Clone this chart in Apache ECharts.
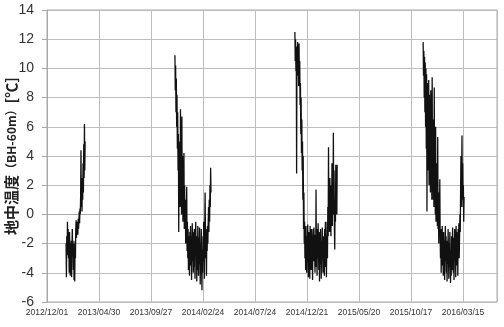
<!DOCTYPE html>
<html>
<head>
<meta charset="utf-8">
<script src="https://cdn.jsdelivr.net/npm/echarts@6/dist/echarts.min.js"></script>
<style>html,body{margin:0;padding:0;background:#fff;}#c{width:504px;height:327px;}</style>
</head>
<body>
<div id="c"></div>
<script>
// Axis settings
const axisStart = "2012/12/01";
const xTickDays = 150;
const xMaxDays = 1298;
const yMin = -6, yMax = 14, yStep = 2;
const yAxisTitle = ["地中温度", "（BH-60m）", "[℃]"];

// Measured series: each winter record, daily values from its start date
const seg1Start = "2013/01/25";
const seg1 = [
  -2.0, -4.3, -1.5, -2.8, -0.5, -2.5, -1.0, -3.0, -2.0, -4.0,
  -1.2, -2.5, -4.2, -2.0, -3.5, -1.8, -4.3, -2.2, -1.0, -2.6,
  -1.8, -3.8, -2.0, -4.5, -2.4, -4.6, -1.8, -3.0, -1.0, -0.4,
  -1.6, -0.6, -1.2, -0.5, -1.4, -0.3, -1.0, -0.5, 0.2, -0.6,
  0.4, 0.0, 1.2, 4.4, 0.5, 1.5, 0.2, 2.5, 1.0, 3.5,
  1.5, 4.8, 2.5, 6.2, 3.0, 5.0
];
const seg2Start = "2013/12/05";
const seg2 = [
  10.9, 8.5, 10.2, 7.0, 9.3, 6.0, 8.2, 4.5, 7.0, 3.0,
  5.5, -1.2, 4.0, 1.5, 5.0, 0.5, 7.2, 2.0, 5.5, 0.0,
  6.7, 1.0, 4.0, -0.5, 3.0, 0.0, 4.2, -1.0, 2.0, -0.8,
  1.0, -2.0, 0.5, -1.5, 1.9, -2.5, -0.5, -3.0, -1.0, -3.8,
  -1.5, -2.5, -4.2, -1.2, -3.0, -0.8, -3.5, -1.5, -4.5, -2.0,
  -0.6, -3.2, -1.2, -4.0, -2.2, -3.6, -1.0, -3.0, -4.4, -1.8,
  -0.5, -2.8, -1.5, -4.6, -2.0, -3.8, -0.8, -2.5, -4.2, -1.6,
  -3.4, -0.9, -2.8, -4.8, -2.2, -3.0, -1.0, -3.6, -5.2, -2.4,
  -4.0, -1.5, -3.2, -0.5, -2.0, -4.4, -1.2, 1.5, -1.0, -3.0,
  -1.8, -4.2, -1.0, -2.5, -0.8, -2.0, -0.5, 0.5, -1.2, 1.0,
  -0.5, 2.0, 0.5, 3.2, 1.5
];
const seg3Start = "2014/11/16";
const seg3 = [
  12.5, 10.5, 12.0, 9.8, 11.5, 2.8, 11.0, 10.0, 11.8, 9.5,
  11.2, 8.8, 11.7, 9.0, 10.5, 7.5, 9.0, 5.5, 8.0, 4.2,
  6.5, 3.0, 5.0, 1.0, 4.0, -1.0, 1.5, -2.0, -0.5, -3.0,
  -1.0, -3.8, -0.8, -2.5, -4.0, -1.5, -3.2, -0.7, -2.8, -4.3,
  -1.2, -3.5, -1.8, -4.4, -0.8, -2.6, -1.3, -3.8, -1.0, -3.0,
  -2.0, -4.5, -1.5, -1.0, -3.2, -0.9, -3.2, -2.4, -4.0, -1.4,
  -3.6, 1.7, -2.8, -1.6, -4.2, -1.0, -3.0, -0.6, -2.2, -3.8,
  -1.2, -4.6, -2.0, -3.4, -1.0, -2.6, -4.4, -1.8, -3.0, -0.9,
  -2.4, -4.0, -1.5, -3.2, -2.0, -4.2, -1.0, -2.8, -0.5, -3.6,
  -1.5, -4.3, -2.0, -0.5, -3.0, 0.5, -1.5, 4.6, -0.5, 1.5,
  -1.2, 2.5, -0.2, 1.0, -1.5, 2.0, 0.0, 3.5, -0.8, 1.5,
  0.0, 5.6, 0.5, 3.0, -1.0, -2.4, 1.0, -0.5, 3.4, 1.0,
  2.5, 0.0, 3.4
];
const seg4Start = "2015/11/21";
const seg4 = [
  11.8, 9.5, 11.2, 8.0, 10.8, 7.0, 10.4, 6.0, 10.0, 4.5,
  9.6, 0.2, 9.0, 3.0, 8.6, 5.0, 9.2, 2.0, 8.2, 4.0,
  7.8, 1.5, 8.5, 3.0, 7.5, 1.0, 9.4, 2.5, 6.5, 1.0,
  5.5, 0.5, 8.7, 1.5, 4.5, 0.0, 6.0, -0.5, 3.5, 1.0,
  2.5, -0.8, 5.3, -1.0, 1.5, -2.0, 0.5, -1.2, 2.4, -1.5,
  -3.0, -1.0, -4.0, -1.5, -3.0, -0.8, -3.5, -2.0, -4.2, -1.2,
  -3.0, -1.8, -4.5, -2.4, -0.8, -3.2, -1.5, -4.0, -2.2, -4.6,
  -1.8, -3.4, -1.0, -2.8, -4.4, -2.0, -3.6, -1.2, -3.0, -4.7,
  -2.5, -4.2, -1.5, -3.8, -2.0, -0.9, -3.2, -4.0, -1.6, -4.5,
  -2.4, -1.0, -3.0, -2.0, -4.3, -0.8, -2.6, -1.2, -3.5, -1.8,
  -4.2, -1.0, -2.5, -0.6, -3.0, -1.5, 0.0, -1.2, 1.5, 4.0,
  0.5, 2.5, 5.4, 1.0, 3.5, 0.5, 2.0, -0.5, 1.2
];

const DAY = 86400000;
function toUTC(s) { const p = s.split("/").map(Number); return Date.UTC(p[0], p[1] - 1, p[2]); }
const origin = toUTC(axisStart);
function dayOf(s) { return Math.round((toUTC(s) - origin) / DAY); }
function fmt(d) {
  const t = new Date(origin + d * DAY);
  const mm = String(t.getUTCMonth() + 1).padStart(2, "0");
  const dd = String(t.getUTCDate()).padStart(2, "0");
  return t.getUTCFullYear() + "/" + mm + "/" + dd;
}
const data = [];
[[seg1Start, seg1], [seg2Start, seg2], [seg3Start, seg3], [seg4Start, seg4]].forEach(([s, arr], k) => {
  const d0 = dayOf(s);
  if (k > 0) data.push([d0 - 1, null]);
  arr.forEach((v, i) => data.push([d0 + i, v]));
});

const chart = echarts.init(document.getElementById("c"), null, { renderer: "canvas" });
chart.setOption({
  animation: false,
  backgroundColor: "#fff",
  grid: {
    left: 47, right: 7, top: 10, bottom: 25,
    containLabel: false, outerBoundsMode: "none",
    show: true, borderColor: "#a8a8a8", borderWidth: 1
  },
  xAxis: {
    type: "value", min: 0, max: xMaxDays, interval: xTickDays,
    axisLine: { show: true, lineStyle: { color: "#a8a8a8" } },
    axisTick: { show: false },
    splitLine: { show: true, lineStyle: { color: "#bdbdbd", width: 1 } },
    axisLabel: {
      formatter: v => (v % xTickDays === 0 ? fmt(v) : ""),
      fontFamily: "Liberation Sans", fontSize: 8.5, color: "#333", margin: 6, showMaxLabel: false
    }
  },
  yAxis: {
    type: "value", min: yMin, max: yMax, interval: yStep,
    axisLine: { show: true, lineStyle: { color: "#a8a8a8" } },
    axisTick: { show: true, length: 5, lineStyle: { color: "#a8a8a8" } },
    splitLine: { show: true, lineStyle: { color: "#bdbdbd", width: 1 } },
    axisLabel: { fontFamily: "Liberation Sans", fontSize: 14, color: "#333", margin: 13 },
    name: "{a|" + yAxisTitle[0] + "}{b|" + yAxisTitle[1] + "}{a|" + yAxisTitle[2] + "}",
    nameLocation: "middle", nameGap: 28, nameRotate: 90, nameMoveOverlap: false,
    nameTextStyle: {
      rich: {
        a: { fontFamily: "Noto Sans CJK JP", fontSize: 15, fontWeight: "bold", color: "#222" },
        b: { fontFamily: "Noto Sans CJK JP", fontSize: 12, fontWeight: "bold", color: "#222" }
      }
    }
  },
  series: [{
    type: "line", data: data, showSymbol: false, connectNulls: false,
    lineStyle: { color: "#111", width: 1.3 }
  }]
});
</script>
</body>
</html>
